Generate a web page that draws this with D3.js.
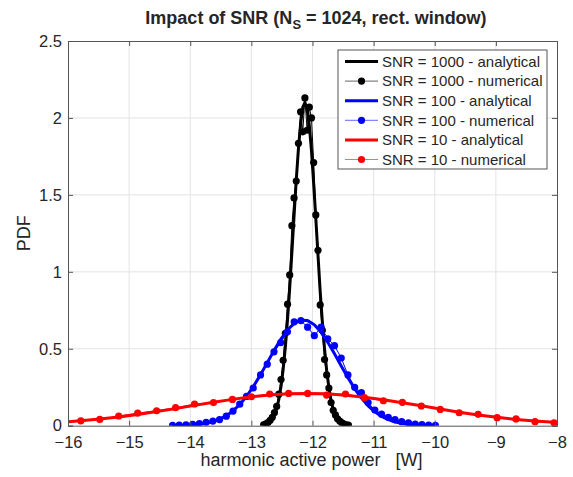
<!DOCTYPE html>
<html>
<head>
<meta charset="utf-8">
<script src="https://cdn.jsdelivr.net/npm/d3@7"></script>
<style>
  body { margin: 0; background: #fff; }
  text { font-family: "Liberation Sans", Arial, sans-serif; fill: #262626; }
</style>
</head>
<body>
<div id="chart"></div>
<script>
// ---- data ----
var xBlack = [-12.800, -12.764, -12.729, -12.693, -12.658, -12.622, -12.586, -12.551, -12.515, -12.480,
  -12.444, -12.408, -12.373, -12.337, -12.302, -12.266, -12.230, -12.195, -12.159, -12.124,
  -12.088, -12.052, -12.017, -11.981, -11.946, -11.910, -11.874, -11.839, -11.803, -11.768,
  -11.732, -11.696, -11.661, -11.625, -11.590, -11.554, -11.518, -11.483, -11.447, -11.412];
var blackAnalytical = [0.004, 0.007, 0.013, 0.024, 0.041, 0.069, 0.111, 0.171, 0.255, 0.367,
  0.513, 0.693, 0.896, 1.127, 1.361, 1.595, 1.800, 1.960, 2.070, 2.100,
  2.060, 1.950, 1.790, 1.575, 1.347, 1.108, 0.870, 0.677, 0.500, 0.359,
  0.248, 0.164, 0.106, 0.066, 0.040, 0.023, 0.013, 0.007, 0.004, 0.002];
var blackNumerical = [0.006, 0.012, 0.020, 0.035, 0.055, 0.085, 0.125, 0.205, 0.300, 0.425,
  0.600, 0.790, 0.980, 1.300, 1.480, 1.590, 1.835, 2.040, 1.910, 2.130,
  1.920, 2.070, 2.000, 1.710, 1.370, 1.140, 0.785, 0.620, 0.430, 0.330,
  0.245, 0.150, 0.100, 0.070, 0.045, 0.030, 0.018, 0.010, 0.006, 0.004];

var xBlue = [-14.29, -14.18, -14.07, -13.96, -13.85, -13.74, -13.63, -13.52, -13.41, -13.30,
  -13.19, -13.08, -12.97, -12.85, -12.74, -12.63, -12.52, -12.41, -12.30, -12.19,
  -12.08, -11.97, -11.86, -11.75, -11.64, -11.53, -11.42, -11.31, -11.20, -11.09,
  -10.98, -10.87, -10.76, -10.65, -10.54, -10.43, -10.32, -10.21, -10.10, -9.99];
var blueAnalytical = [0.001, 0.002, 0.003, 0.005, 0.009, 0.016, 0.027, 0.042, 0.065, 0.096,
  0.138, 0.190, 0.253, 0.332, 0.410, 0.489, 0.561, 0.622, 0.665, 0.686,
  0.683, 0.656, 0.607, 0.542, 0.467, 0.388, 0.312, 0.240, 0.180, 0.129,
  0.090, 0.060, 0.039, 0.024, 0.015, 0.009, 0.005, 0.003, 0.001, 0.001];
var blueNumerical = [0.002, 0.004, 0.006, 0.009, 0.014, 0.022, 0.030, 0.040, 0.062, 0.095,
  0.140, 0.190, 0.245, 0.330, 0.400, 0.480, 0.540, 0.610, 0.675, 0.683,
  0.640, 0.585, 0.640, 0.565, 0.520, 0.440, 0.330, 0.250, 0.215, 0.150,
  0.102, 0.075, 0.055, 0.040, 0.026, 0.018, 0.011, 0.007, 0.004, 0.003];

var xRed = [-16.10, -15.79, -15.48, -15.17, -14.86, -14.55, -14.24, -13.93, -13.62, -13.31,
  -13.00, -12.70, -12.39, -12.08, -11.77, -11.46, -11.15, -10.84, -10.53, -10.22,
  -9.91, -9.60, -9.29, -8.98, -8.67, -8.36, -8.05, -7.74];
var redAnalytical = [0.023, 0.032, 0.043, 0.057, 0.073, 0.092, 0.111, 0.132, 0.152, 0.171,
  0.188, 0.200, 0.208, 0.210, 0.207, 0.198, 0.185, 0.169, 0.149, 0.129,
  0.108, 0.088, 0.070, 0.055, 0.041, 0.030, 0.022, 0.015];
var redNumerical = [0.024, 0.032, 0.041, 0.063, 0.082, 0.097, 0.117, 0.141, 0.150, 0.171,
  0.188, 0.206, 0.210, 0.210, 0.199, 0.206, 0.182, 0.162, 0.152, 0.128,
  0.106, 0.084, 0.074, 0.052, 0.044, 0.026, 0.019, 0.014];

var xTicks = [-16, -15, -14, -13, -12, -11, -10, -9, -8];
var yTicks = [0, 0.5, 1, 1.5, 2, 2.5];

var series = [
  {name: "SNR = 1000 - analytical", color: "#000000", xs: xBlack, ys: blackAnalytical, dots: false},
  {name: "SNR = 1000 - numerical", color: "#000000", xs: xBlack, ys: blackNumerical, dots: true},
  {name: "SNR = 100 - analytical", color: "#0000ff", xs: xBlue, ys: blueAnalytical, dots: false},
  {name: "SNR = 100 - numerical", color: "#0000ff", xs: xBlue, ys: blueNumerical, dots: true},
  {name: "SNR = 10 - analytical", color: "#ff0000", xs: xRed, ys: redAnalytical, dots: false},
  {name: "SNR = 10 - numerical", color: "#ff0000", xs: xRed, ys: redNumerical, dots: true}
];

// ---- layout ----
var W = 573, H = 477;
var margin = {top: 41, right: 16, bottom: 51.3, left: 68},
    width = W - margin.left - margin.right,
    height = H - margin.top - margin.bottom;

var svg = d3.select("#chart").append("svg")
    .attr("width", W)
    .attr("height", H);

var x = d3.scaleLinear().domain([-16, -8]).range([0, width]);
var y = d3.scaleLinear().domain([0, 2.5]).range([height, 0]);

var g = svg.append("g")
    .attr("transform", "translate(" + margin.left + "," + margin.top + ")");

svg.append("defs").append("clipPath").attr("id", "clip")
  .append("rect").attr("width", width).attr("height", height);

// grid
g.append("g").selectAll("line").data(xTicks.slice(1, -1)).enter().append("line")
    .attr("x1", d => x(d)).attr("x2", d => x(d))
    .attr("y1", 0).attr("y2", height)
    .attr("stroke", "#e3e3e3").attr("stroke-width", 1);
g.append("g").selectAll("line").data(yTicks.slice(1, -1)).enter().append("line")
    .attr("y1", d => y(d)).attr("y2", d => y(d))
    .attr("x1", 0).attr("x2", width)
    .attr("stroke", "#e3e3e3").attr("stroke-width", 1);

// curves
var plot = g.append("g").attr("clip-path", "url(#clip)");
series.forEach(function(s) {
  var pts = s.xs.map((v, i) => [v, s.ys[i]]);
  var line = d3.line().x(d => x(d[0])).y(d => y(d[1]));
  plot.append("path")
      .datum(pts)
      .attr("d", line)
      .attr("fill", "none")
      .attr("stroke", s.color)
      .attr("stroke-width", s.dots ? 1 : 3)
      .attr("stroke-linejoin", "round");
  if (s.dots) {
    plot.append("g").selectAll("circle")
        .data(pts.filter(d => d[0] >= -16 && d[0] <= -8))
        .enter().append("circle")
        .attr("cx", d => x(d[0]))
        .attr("cy", d => y(d[1]))
        .attr("r", 3.6)
        .attr("fill", s.color);
  }
});

// axes
var xAxis = d3.axisBottom(x).tickValues(xTicks).tickSize(-5).tickPadding(11).tickFormat(d3.format("d"));
var yAxis = d3.axisLeft(y).tickValues(yTicks).tickSize(-5).tickPadding(6).tickFormat(d => d);

var gx = g.append("g").attr("transform", "translate(0," + height + ")").call(xAxis);
var gy = g.append("g").call(yAxis);
var gxTop = g.append("g").call(d3.axisTop(x).tickValues(xTicks).tickSize(-5).tickFormat(""));
var gyRight = g.append("g").attr("transform", "translate(" + width + ",0)")
    .call(d3.axisRight(y).tickValues(yTicks).tickSize(-5).tickFormat(""));

[gx, gy, gxTop, gyRight].forEach(function(a) {
  a.select(".domain").attr("stroke", "#555").attr("stroke-width", 1);
  a.selectAll(".tick line").attr("stroke", "#555");
  a.selectAll(".tick text").style("font-size", "16.5px").attr("fill", "#262626");
});

// labels
svg.append("text")
    .attr("x", 311.5)
    .attr("y", 466)
    .attr("text-anchor", "middle")
    .style("font-size", "18px")
    .text("harmonic active power\u00a0\u00a0\u00a0[W]");

svg.append("text")
    .attr("transform", "translate(30," + (margin.top + height / 2) + ") rotate(-90)")
    .attr("text-anchor", "middle")
    .style("font-size", "18px")
    .text("PDF");

var title = svg.append("text")
    .attr("x", 316)
    .attr("y", 24)
    .attr("text-anchor", "middle")
    .style("font-size", "18px")
    .style("font-weight", "bold")
    .attr("fill", "#000");
title.append("tspan").text("Impact of SNR (N");
title.append("tspan").attr("dy", 5).style("font-size", "13px").text("S");
title.append("tspan").attr("dy", -5).text(" = 1024, rect. window)");

// legend
var lg = svg.append("g").attr("transform", "translate(338,50)");
lg.append("rect")
    .attr("width", 209).attr("height", 119)
    .attr("fill", "#fff").attr("stroke", "#555").attr("stroke-width", 1);
var row = lg.selectAll("g.row").data(series).enter().append("g")
    .attr("class", "row")
    .attr("transform", (d, i) => "translate(0," + (11.5 + i * 19.6) + ")");
row.append("line")
    .attr("x1", 7).attr("x2", 40)
    .attr("stroke", d => d.color)
    .attr("stroke-opacity", d => d.dots ? 0.6 : 1)
    .attr("stroke-width", d => d.dots ? 1 : 3);
row.filter(d => d.dots).append("circle")
    .attr("cx", 23.5).attr("r", 3.6)
    .attr("fill", d => d.color);
row.append("text")
    .attr("x", 44).attr("dy", "0.35em")
    .style("font-size", "15px")
    .attr("fill", "#000")
    .text(d => d.name);
</script>
</body>
</html>
